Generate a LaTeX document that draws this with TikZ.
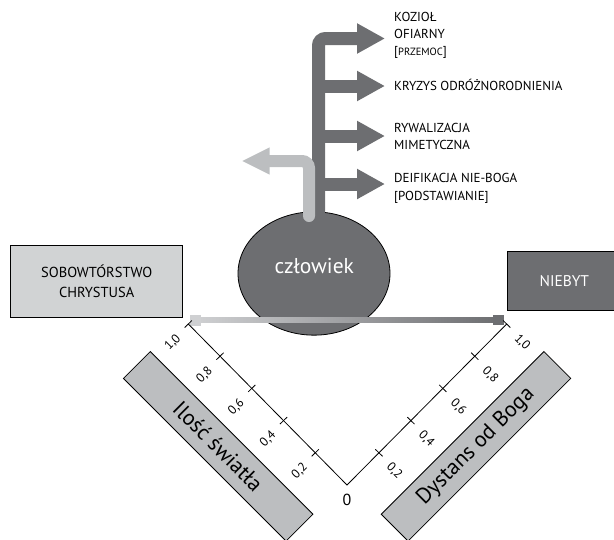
\documentclass[tikz,border=0pt]{standalone}
\usepackage{fontspec}
\setmainfont{PT Sans}
\usetikzlibrary{shapes.geometric,arrows.meta,calc}
\definecolor{dk}{HTML}{6D6E71}
\definecolor{lt}{HTML}{BCBEC0}
\definecolor{bx}{HTML}{D1D3D4}
\definecolor{barl}{HTML}{CFD0D2}
\begin{document}
\begin{tikzpicture}[x=1pt,y=-1pt,
  lbl/.style={anchor=base west,inner sep=0pt,font=\fontsize{13}{15}\selectfont},
  boxst/.style={draw=black,line width=0.8pt,align=center,inner sep=0pt},
  rotbox/.style={draw=black,line width=0.8pt,fill=lt,minimum width=230pt,minimum height=38pt,inner sep=0pt,font=\fontsize{22}{24}\selectfont},
  dkarrow/.style={draw=dk,line width=13pt,-{Triangle[length=28pt,width=28.4pt]}},
  axisline/.style={draw=black,line width=0.8pt},
  num/.style={inner sep=0pt,font=\fontsize{12.5}{14}\selectfont}]
\useasboundingbox (0,0) rectangle (614,539);
\clip (0,0) rectangle (614,539);

% side boxes
\node[boxst,fill=bx,minimum width=172pt,minimum height=72.3pt,font=\fontsize{14.5}{20.6}\selectfont] (sob) at (96.7,281.2) {SOBOWTÓRSTWO\\CHRYSTUSA};
\node[boxst,fill=dk,text=white,minimum width=114pt,minimum height=59pt,font=\fontsize{15.5}{18}\selectfont] (nie) at (564.3,281.2) {NIEBYT};

% man
\node[ellipse,draw=black,line width=0.8pt,fill=dk,minimum width=152pt,minimum height=123.3pt,inner sep=0pt] (man) at (314,273.5) {};
\node[text=white,inner sep=0pt,font=\fontsize{21.5}{24}\selectfont] (manl) at (314.3,266.4) {człowiek};

% dark branching arrows
\coordinate (tb) at (318.5,214);
\coordinate (tt) at (318.5,38.5);
\coordinate (h1) at (385,38.5);
\coordinate (b2) at (318.5,86);   \coordinate (h2) at (385,86);
\coordinate (b3) at (318.5,136);  \coordinate (h3) at (385,136);
\coordinate (b4) at (318.5,184);  \coordinate (h4) at (385,184);
\draw[dkarrow,rounded corners=7pt] (tb) -- (tt) -- (h1);
\draw[dkarrow] (b2) -- (h2);
\draw[dkarrow] (b3) -- (h3);
\draw[dkarrow] (b4) -- (h4);

% light arrow
\coordinate (lb) at (309,216);
\coordinate (lc) at (309,161);
\coordinate (lh) at (241.7,161);
\draw[draw=lt,line width=12pt,line cap=round,rounded corners=7pt,-{Triangle[length=28pt,width=25pt]}] (lb) -- (lc) -- (lh);

% labels
\node[lbl] (k1) at (394,21.2) {KOZIOŁ};
\node[lbl] (k2) at (394,38.8) {OFIARNY};
\node[lbl] (k3) at (394,55) {[{\fontsize{10.5}{12}\selectfont PRZEMOC}]};
\node[lbl] (k4) at (394,90.7) {KRYZYS ODRÓŻNORODNIENIA};
\node[lbl] (k5) at (394,132.3) {RYWALIZACJA};
\node[lbl] (k6) at (394,149) {MIMETYCZNA};
\node[lbl] (k7) at (394,182.7) {DEIFIKACJA NIE-BOGA};
\node[lbl] (k8) at (394,200) {[PODSTAWIANIE]};

% scale bar
\shade[left color=barl,right color=dk] (195,317.4) rectangle (498,322.6);
\fill[barl] (190,315) rectangle (200.5,325.5);
\fill[dk] (493,314.5) rectangle (503.5,325);

% axes
\coordinate (V) at (347,485);
\coordinate (L) at (188.3,324);
\coordinate (R) at (506.7,324);
\draw[axisline] (L) -- (V) -- (R);
\foreach \t/\s in {0.2/{0,2},0.4/{0,4},0.6/{0,6},0.8/{0,8},1.0/{1,0}}{
  \draw[axisline] ($(V)!\t!(L)$) +(3.6,-3.5) -- +(-3.6,3.5);
  \draw[axisline] ($(V)!\t!(R)$) +(3.6,3.5) -- +(-3.6,-3.5);
  \node[num,rotate=45] at ($(V)!\t!(L)+(-15.5,18.5)$) {\s};
  \node[num,rotate=-45] at ($(V)!\t!(R)+(15.5,18.5)$) {\s};
}
\node[inner sep=0pt,font=\fontsize{16}{18}\selectfont] (zero) at (347,500) {0};

% rotated boxes
\node[rotbox,rotate=-45] (ilosc) at (218.2,446.3) {Ilość światła};
\node[rotbox,rotate=45] (dyst) at (476,446.3) {Dystans od Boga};
\end{tikzpicture}
\end{document}
